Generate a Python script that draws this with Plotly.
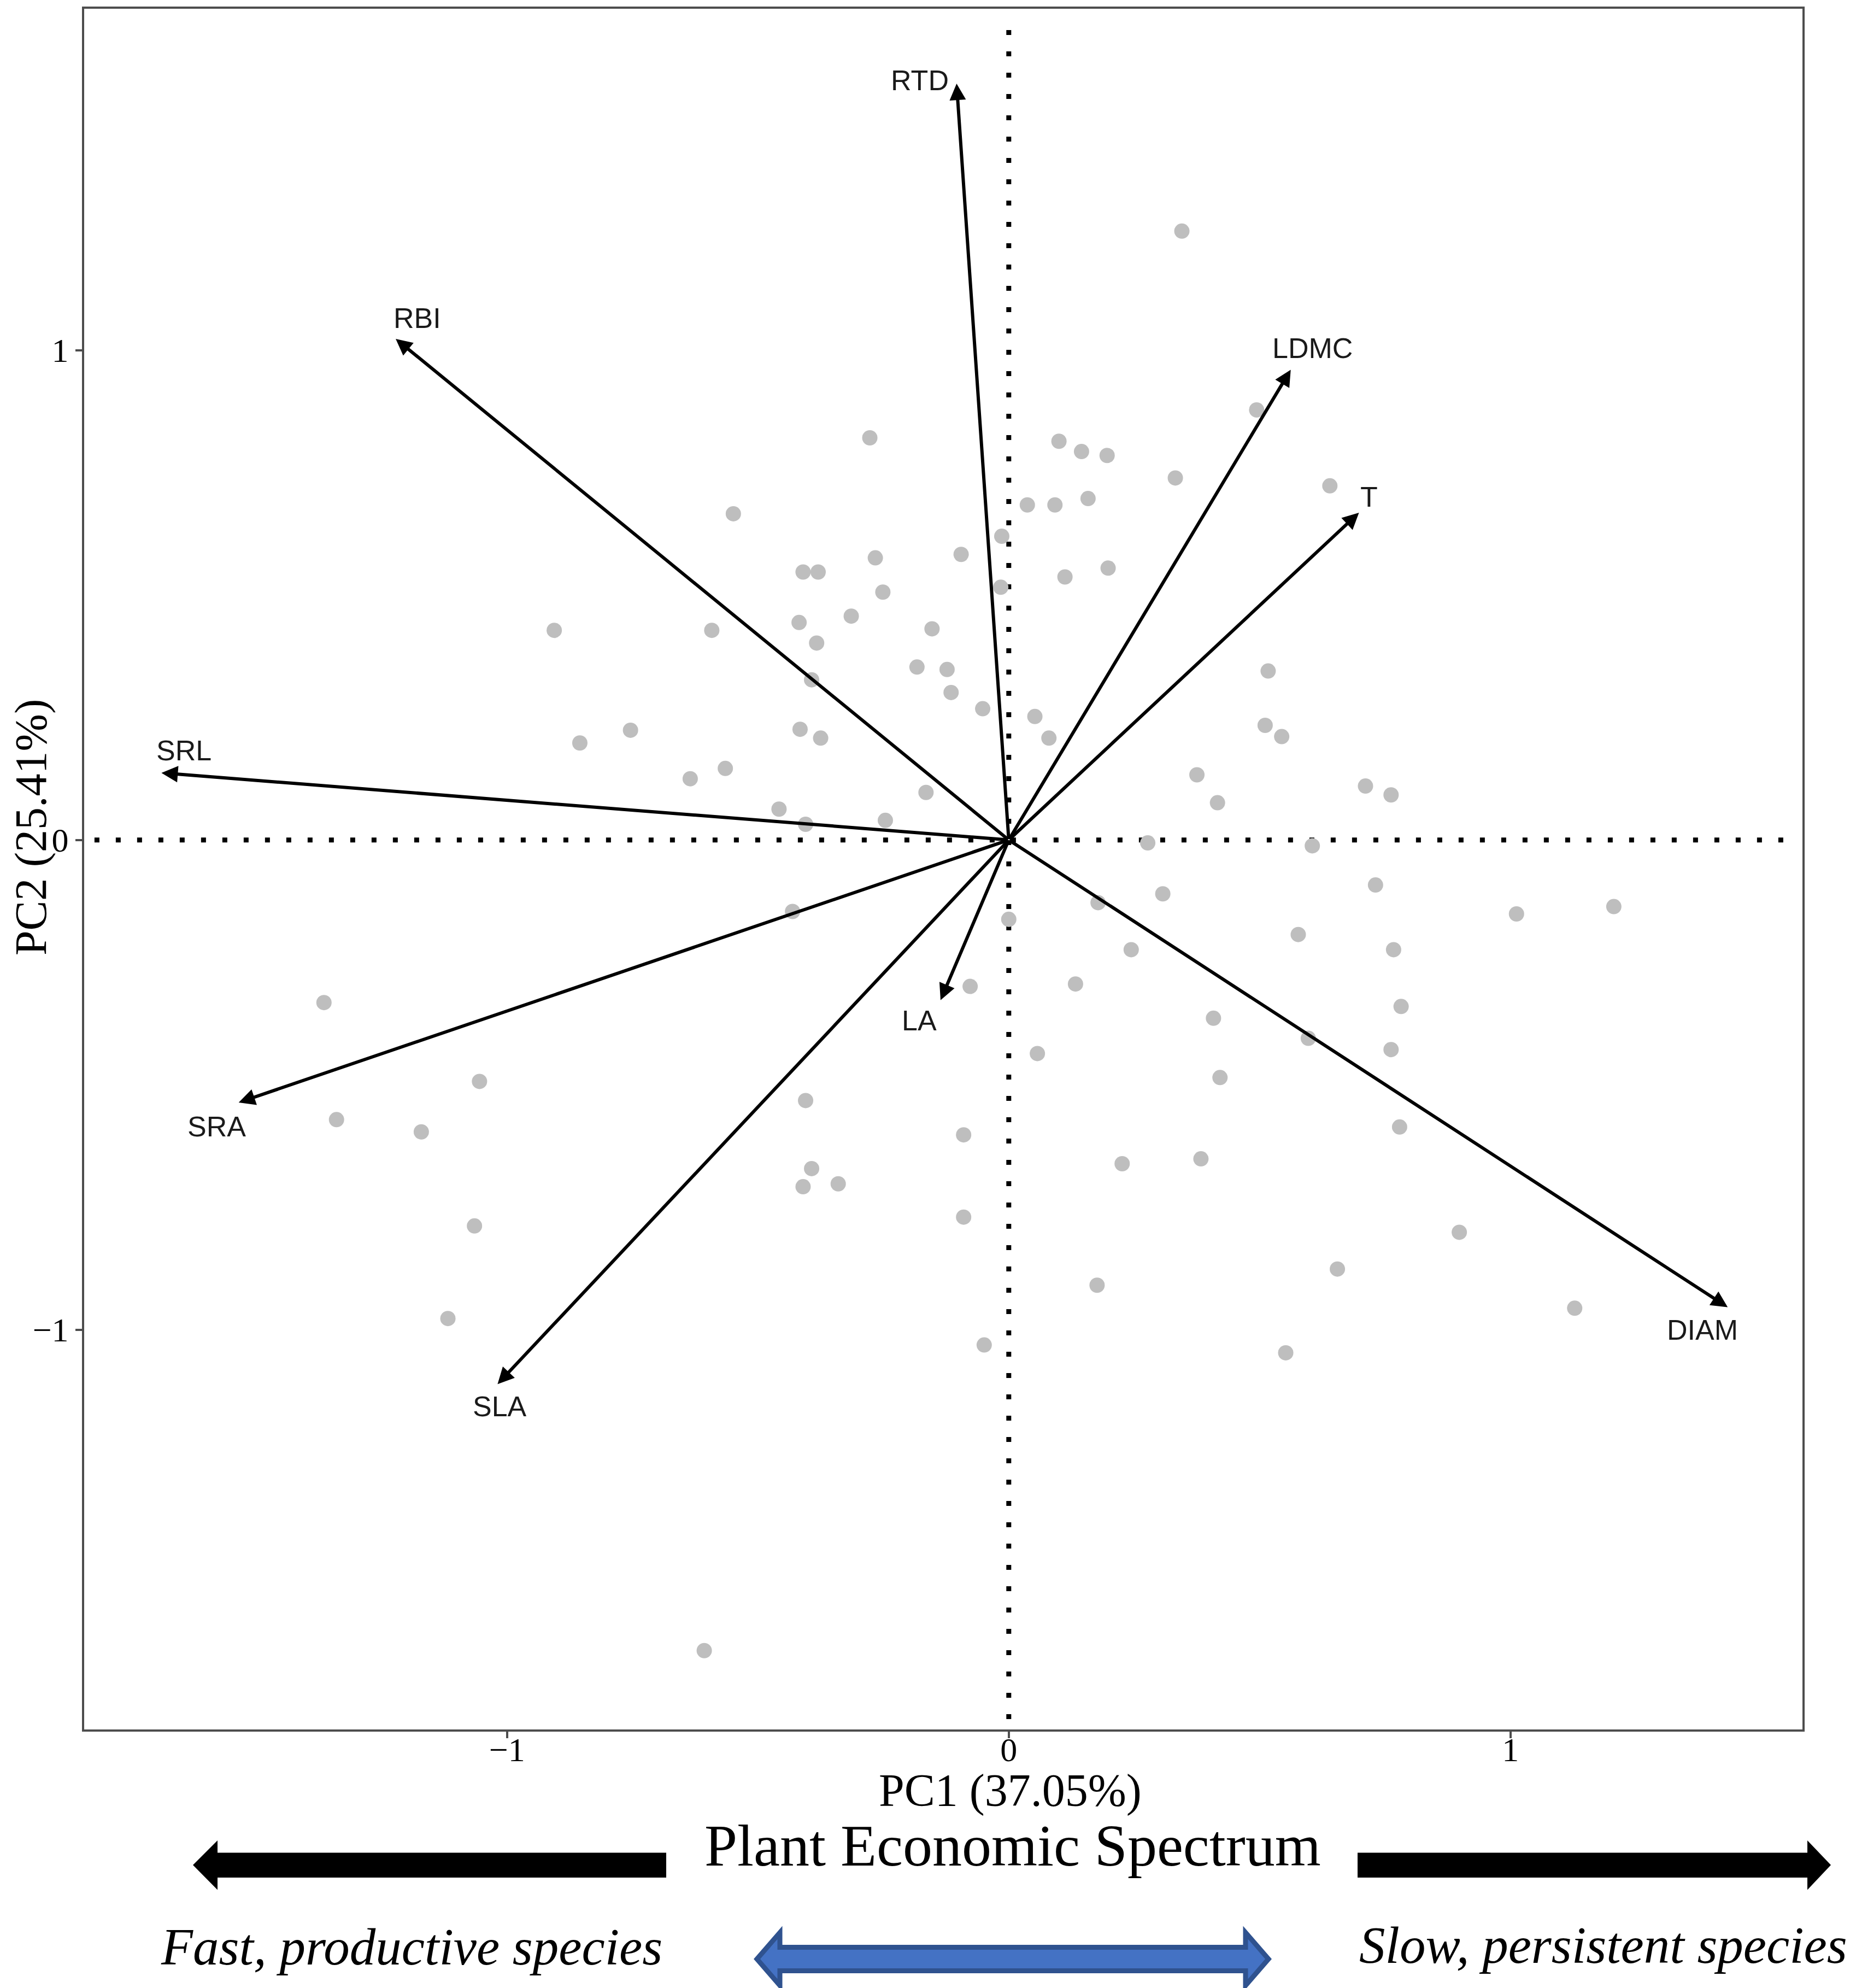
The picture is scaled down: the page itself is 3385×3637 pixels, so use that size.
# PCA biplot - plant economic spectrum
import plotly.graph_objects as go

# species scores (PC1, PC2)
pc1 = [0.345, -0.277, 0.100, 0.145, 0.196, 0.332, 0.494, 0.640, -0.549, 0.037,
       0.092, 0.158, -0.095, -0.014, -0.410, -0.380, -0.266, 0.112, 0.198, -0.016,
       -0.251, -0.314, -0.906, -0.592, -0.418, -0.383, -0.153, -0.393, -0.183, -0.123,
       -0.115, -0.052, 0.517, 0.052, 0.080, 0.511, 0.544, -0.855, -0.754, -0.416,
       -0.375, -0.565, -0.635, -0.165, -0.458, -0.405, -0.246, 0.375, 0.416, 0.711,
       0.762, 0.277, 0.605, 0.731, 0.307, 0.178, 0.000, 0.577, 0.244, 0.767,
       1.012, 1.206, -0.431, -1.365, 0.133, -0.077, 0.408, 0.782, 0.597, 0.762,
       0.057, -1.055, 0.421, -1.340, -1.171, -0.405, 0.779, -0.090, 0.226, 0.383,
       -0.393, -0.410, -0.340, -0.090, -1.065, 0.898, 0.655, -1.118, 0.176, 1.128,
       -0.049, 0.552, -0.607]
pc2 = [1.243, 0.821, 0.814, 0.793, 0.785, 0.739, 0.878, 0.723, 0.666, 0.684,
       0.684, 0.697, 0.583, 0.620, 0.547, 0.547, 0.576, 0.537, 0.555, 0.516,
       0.506, 0.457, 0.428, 0.428, 0.444, 0.402, 0.431, 0.327, 0.353, 0.348,
       0.301, 0.268, 0.345, 0.252, 0.208, 0.234, 0.211, 0.198, 0.224, 0.226,
       0.208, 0.146, 0.125, 0.097, 0.063, 0.032, 0.040, 0.133, 0.076, 0.110,
       0.092, -0.006, -0.012, -0.092, -0.110, -0.128, -0.162, -0.193, -0.224, -0.224,
       -0.151, -0.136, -0.146, -0.332, -0.294, -0.299, -0.364, -0.340, -0.405, -0.428,
       -0.436, -0.493, -0.485, -0.571, -0.596, -0.532, -0.586, -0.602, -0.661, -0.651,
       -0.671, -0.708, -0.702, -0.770, -0.788, -0.801, -0.876, -0.977, -0.909, -0.956,
       -1.031, -1.047, -1.655]

# trait loadings (arrow tips) and label positions
traits = ["RTD", "RBI", "LDMC", "T", "SRL", "SRA", "SLA", "LA", "DIAM"]
load_x = [-0.104, -1.222, 0.562, 0.698, -1.689, -1.535, -1.019, -0.136, 1.433]
load_y = [1.544, 1.023, 0.960, 0.668, 0.137, -0.536, -1.111, -0.327, -0.954]
lab_x = [-0.177, -1.179, 0.605, 0.718, -1.644, -1.579, -1.014, -0.178, 1.383]
lab_y = [1.551, 1.065, 1.004, 0.700, 0.183, -0.585, -1.156, -0.369, -1.000]

x_title = "PC1 (37.05%)"
y_title = "PC2 (25.41%)"

W, H = 3385, 3637
L, R, T, B = 146, 95, 8, 481
PW, PH = W - L - R, H - T - B
BOTTOM = H - B


def fx(p):
    return (p - L) / PW


def fy(p):
    return (BOTTOM - p) / PH


def poly(pts):
    return "M " + " L ".join(f"{fx(a):.5f},{fy(b):.5f}" for a, b in pts) + " Z"


fig = go.Figure()
fig.add_trace(go.Scatter(x=pc1, y=pc2, mode="markers",
                         marker=dict(size=28, color="#BEBEBE"),
                         showlegend=False, hoverinfo="skip"))

annots = []
for t, x, y, lx, ly in zip(traits, load_x, load_y, lab_x, lab_y):
    annots.append(dict(x=x, y=y, ax=0, ay=0, xref="x", yref="y", axref="x", ayref="y",
                       text="", showarrow=True, arrowhead=2, arrowsize=1.0,
                       arrowwidth=6, arrowcolor="black", standoff=0))
    annots.append(dict(x=lx, y=ly, xref="x", yref="y", text=t, showarrow=False,
                       xanchor="center", yanchor="middle",
                       font=dict(family="Liberation Sans", size=52, color="#1a1a1a")))

serif = "Liberation Serif"


def note(xp, yp, text, size, angle=0):
    return dict(x=fx(xp), y=fy(yp), xref="paper", yref="paper", text=text,
                showarrow=False, xanchor="center", yanchor="middle", textangle=angle,
                font=dict(family=serif, size=size, color="black"))


annots += [
    note(1840, 3268, x_title, 84),
    note(48, 1506, y_title, 82, -90),
    note(1845, 3369, "Plant Economic Spectrum", 108),
    note(745, 3554, "<i>Fast, productive species</i>", 95),
    note(2925, 3551, "<i>Slow, persistent species</i>", 95),
]

shapes = [
    # dotted reference lines through the origin
    dict(type="line", xref="x", yref="paper", x0=0, x1=0, y0=0.006, y1=0.994,
         line=dict(color="black", width=9, dash="9px,30px"), layer="below"),
    dict(type="line", xref="paper", yref="y", x0=0.006, x1=0.994, y0=0, y1=0,
         line=dict(color="black", width=9, dash="9px,30px"), layer="below"),
    # black spectrum arrows
    dict(type="path", xref="paper", yref="paper", fillcolor="black", line=dict(width=0),
         path=poly([(345, 3404), (390, 3359), (390, 3381.5), (1211, 3381.5),
                    (1211, 3427), (390, 3427), (390, 3449.5)])),
    dict(type="path", xref="paper", yref="paper", fillcolor="black", line=dict(width=0),
         path=poly([(3342, 3404), (3299, 3359), (3299, 3381.5), (2476, 3381.5),
                    (2476, 3427), (3299, 3427), (3299, 3449.5)])),
    # blue double arrow
    dict(type="path", xref="paper", yref="paper", fillcolor="#4472C4",
         line=dict(color="#2F528F", width=9),
         path=poly([(1377, 3576), (1419, 3527.5), (1419, 3554.5), (2271, 3554.5),
                    (2271, 3527.5), (2313, 3576), (2271, 3624.5), (2271, 3597.5),
                    (1419, 3597.5), (1419, 3624.5)])),
]

axis_style = dict(showgrid=False, zeroline=False, showline=True, mirror=True,
                  linecolor="#4d4d4d", linewidth=4, ticks="outside", ticklen=12,
                  tickwidth=4, tickcolor="#4d4d4d", tickvals=[-1, 0, 1],
                  tickfont=dict(family=serif, size=62, color="black"))

fig.update_layout(
    width=W, height=H,
    margin=dict(l=L, r=R, t=T, b=B, autoexpand=False),
    paper_bgcolor="white", plot_bgcolor="white",
    xaxis=dict(range=[-1.843, 1.582], ticklabelstandoff=-32, **axis_style),
    yaxis=dict(range=[-1.816, 1.697], **axis_style),
    annotations=annots, shapes=shapes, showlegend=False,
)

fig.write_html("out.html")
